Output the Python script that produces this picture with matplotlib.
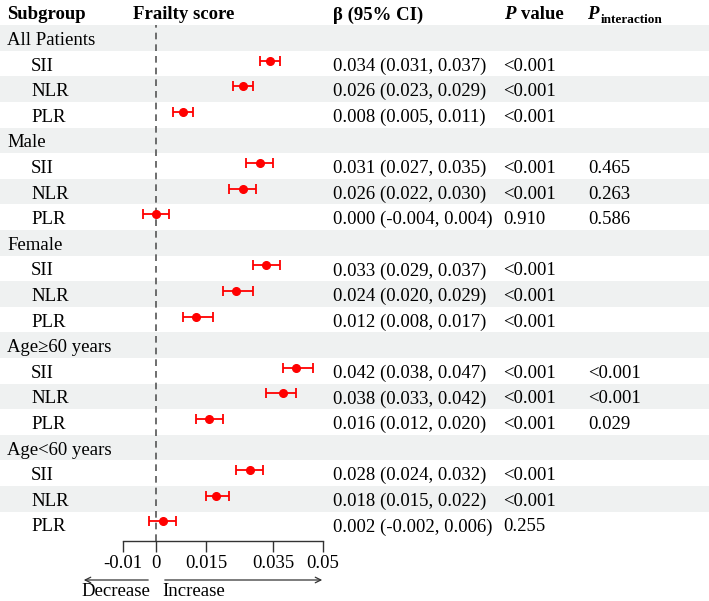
import matplotlib.pyplot as plt
import numpy as np

plt.rcParams['font.family'] = ['Liberation Serif', 'DejaVu Serif']

# table data
groups = ['All Patients', 'Male', 'Female', 'Age\u226560 years', 'Age<60 years']
markers = ['SII', 'NLR', 'PLR']
beta = [[0.034, 0.026, 0.008],
        [0.031, 0.026, 0.000],
        [0.033, 0.024, 0.012],
        [0.042, 0.038, 0.016],
        [0.028, 0.018, 0.002]]
ci_low = [[0.031, 0.023, 0.005],
          [0.027, 0.022, -0.004],
          [0.029, 0.020, 0.008],
          [0.038, 0.033, 0.012],
          [0.024, 0.015, -0.002]]
ci_high = [[0.037, 0.029, 0.011],
           [0.035, 0.030, 0.004],
           [0.037, 0.029, 0.017],
           [0.047, 0.042, 0.020],
           [0.032, 0.022, 0.006]]
p_value = [['<0.001', '<0.001', '<0.001'],
           ['<0.001', '<0.001', '0.910'],
           ['<0.001', '<0.001', '<0.001'],
           ['<0.001', '<0.001', '<0.001'],
           ['<0.001', '<0.001', '0.255']]
p_inter = [['', '', ''],
           ['0.465', '0.263', '0.586'],
           ['', '', ''],
           ['<0.001', '<0.001', '0.029'],
           ['', '', '']]
xticks = [-0.01, 0, 0.015, 0.035, 0.05]
xtick_labels = ['-0.01', '0', '0.015', '0.035', '0.05']

W, H = 709, 601
row_h = 25.6
row0 = 38.0   # pixel centre of first row
fs = 13.5
dy = 0.1      # nudge text down a little inside its band

fig = plt.figure(figsize=(W / 100, H / 100), dpi=100)

# background axes: x in pixels, y in row units
bg = fig.add_axes([0, 0, 1, 1])
bg.set_xlim(0, W)
bg.set_ylim((H - row0) / row_h, -row0 / row_h)
bg.axis('off')

n_rows = len(groups) * 4
for r in range(0, n_rows, 2):
    bg.axhspan(r - 0.5, r + 0.5, color='#eff1f1', lw=0, zorder=0)

# headers
hy = -1.0 + dy
bg.text(7, hy, 'Subgroup', fontsize=fs, fontweight='bold', va='center')
bg.text(133, hy, 'Frailty score', fontsize=fs, fontweight='bold', va='center')
bg.text(333, hy, '\u03b2 (95% CI)', fontsize=fs, fontweight='bold', va='center')
bg.text(504, hy, 'P', fontsize=fs, fontweight='bold', style='italic', va='center')
bg.text(521, hy, 'value', fontsize=fs, fontweight='bold', va='center')
bg.text(587, hy, 'P', fontsize=fs, fontweight='bold', style='italic', va='center')
bg.text(601, hy + 0.18, 'interaction', fontsize=9.5, fontweight='bold', va='center')

# forest axes
x0, x1 = -0.013, 0.052
px_per_unit = 3340
left_px = 156 + x0 * px_per_unit
right_px = 156 + x1 * px_per_unit
top_px = row0 - 0.5 * row_h
bot_px = 541
ax = fig.add_axes([left_px / W, 1 - bot_px / H, (right_px - left_px) / W, (bot_px - top_px) / H])
ax.patch.set_alpha(0)
ax.set_xlim(x0, x1)
ax.set_ylim((bot_px - row0) / row_h, -0.5)
for s in ['top', 'right', 'left']:
    ax.spines[s].set_visible(False)
ax.spines['bottom'].set_bounds(xticks[0], xticks[-1])
ax.spines['bottom'].set_linewidth(1.0)
ax.spines['bottom'].set_color('#333333')
ax.set_yticks([])
ax.set_xticks(xticks)
ax.set_xticklabels(xtick_labels, fontsize=fs)
ax.tick_params(axis='x', direction='out', length=8, width=1.0, pad=2, color='#333333')
ax.axvline(0, color='#555555', lw=1.2, ls=(0, (4, 3)), zorder=1)

r = 0
for g, name in enumerate(groups):
    bg.text(7, r + dy, name, fontsize=fs, va='center')
    r += 1
    for m, mk in enumerate(markers):
        bg.text(31, r + dy, mk, fontsize=fs, va='center')
        b, lo, hi = beta[g][m], ci_low[g][m], ci_high[g][m]
        ax.errorbar(b, r - 0.12, xerr=[[b - lo], [hi - b]], fmt='o', color='#ff0000',
                    ms=5.5, elinewidth=1.3, capsize=3.5, capthick=1.3, zorder=3)
        bg.text(333, r + dy, f'{b:.3f} ({lo:.3f}, {hi:.3f})', fontsize=fs, va='center')
        bg.text(503, r + dy, p_value[g][m], fontsize=fs, va='center')
        if p_inter[g][m]:
            bg.text(588, r + dy, p_inter[g][m], fontsize=fs, va='center')
        r += 1

# direction arrows below the axis
ay = (580 - row0) / row_h
ty = (592 - row0) / row_h
bg.annotate('', xy=(81, ay), xytext=(151, ay),
            arrowprops=dict(arrowstyle='->', color='#333333', lw=0.9))
bg.annotate('', xy=(325, ay), xytext=(162, ay),
            arrowprops=dict(arrowstyle='->', color='#333333', lw=0.9))
bg.text(150, ty, 'Decrease', fontsize=fs, va='center', ha='right')
bg.text(162, ty, 'Increase', fontsize=fs, va='center', ha='left')

fig.savefig('out.png', dpi=100)
